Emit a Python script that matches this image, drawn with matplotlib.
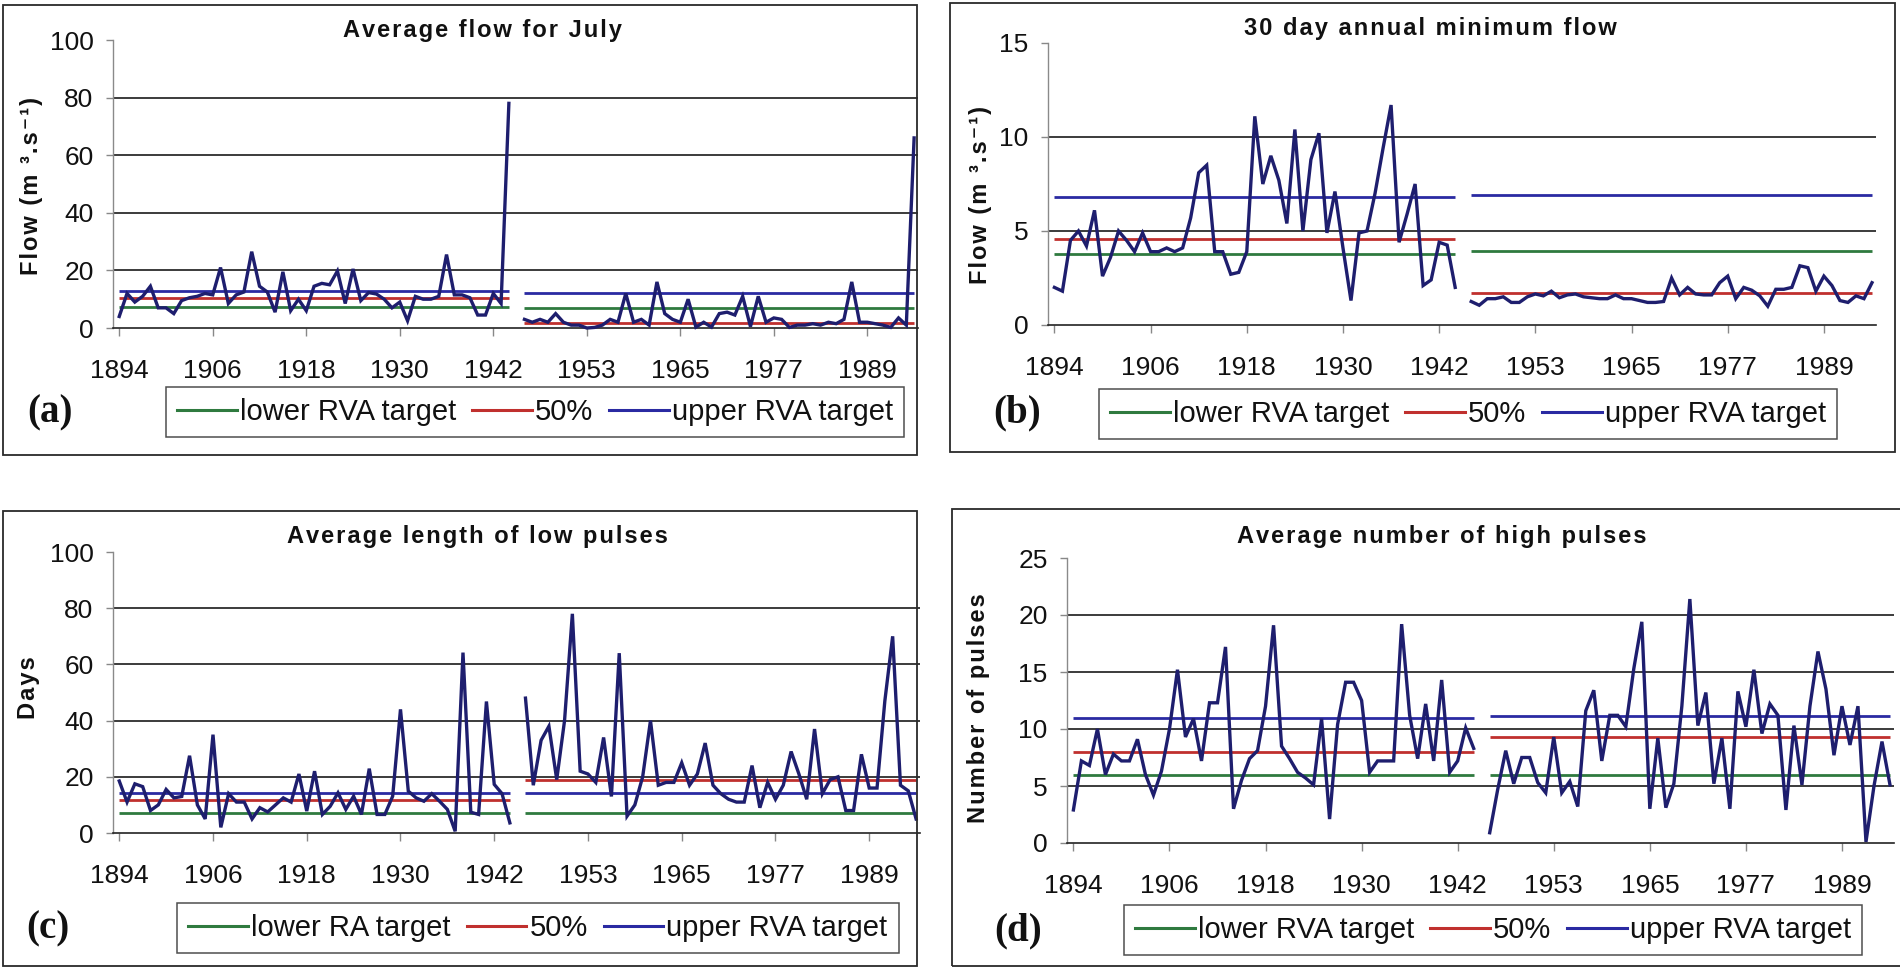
import matplotlib
matplotlib.use("Agg")
import matplotlib.pyplot as plt
from matplotlib.patches import Rectangle
from matplotlib.lines import Line2D

plt.rcParams['font.family'] = ['Liberation Sans', 'DejaVu Sans']

# ---------------------------------------------------------------- categories
years_pre = list(range(1894, 1945))
years_post = list(range(1945, 1996))
categories = [str(y) for y in years_pre] + [''] + [str(y) for y in years_post]
tick_labels = ['1894', '1906', '1918', '1930', '1942', '1953', '1965', '1977', '1989']

# ---------------------------------------------------------------- (a) July flow
july_pre = [4, 12, 9, 11, 14.5, 7, 7, 5, 9.5, 10.5, 11, 12, 11.5, 21, 8.5, 11.5, 12.5,
            26.5, 14.5, 12.5, 5.5, 19.5, 6, 10, 6, 14.5, 15.5, 15, 19.8, 8.5, 20.5, 9.5,
            12.3, 11.8, 10, 7, 9, 2.5, 11, 10, 10, 11, 25.5, 11.5, 11.5, 10.5, 4.5, 4.5,
            12, 8.5, 78]
july_post = [3, 2, 3, 2, 5, 2, 1, 1, 0, 0.2, 1, 3, 2, 12, 2, 3, 1, 16, 5, 3, 2, 10, 0.3,
             2, 0.3, 5, 5.5, 4.5, 11, 0.5, 11, 2, 3.5, 3, 0.2, 1, 1, 1.5, 1, 2, 1.5, 3,
             16, 2, 2, 1.5, 1, 0.2, 3.5, 1, 66]
july_targets_pre = [7.3, 10.3, 12.7]    # lower, 50%, upper
july_targets_post = [7.0, 1.7, 12.2]

# ---------------------------------------------------------------- (b) 30 day minimum
min30_pre = [2.0, 1.8, 4.5, 5.0, 4.2, 6.1, 2.6, 3.6, 5.0, 4.5, 3.9, 4.9, 3.9, 3.9, 4.1,
             3.9, 4.1, 5.7, 8.1, 8.5, 3.9, 3.9, 2.7, 2.8, 3.9, 11.1, 7.5, 9.0, 7.7, 5.4,
             10.4, 5.0, 8.8, 10.2, 4.9, 7.1, 4.1, 1.3, 4.9, 5.0, 7.0, 9.4, 11.7, 4.4, 5.9,
             7.5, 2.1, 2.4, 4.4, 4.25, 2.0]
min30_post = [1.25, 1.05, 1.4, 1.4, 1.5, 1.2, 1.2, 1.5, 1.65, 1.55, 1.8, 1.45, 1.6, 1.65,
              1.5, 1.45, 1.4, 1.4, 1.6, 1.4, 1.4, 1.3, 1.2, 1.2, 1.25, 2.5, 1.6, 2.0, 1.65,
              1.6, 1.6, 2.25, 2.6, 1.4, 2.0, 1.85, 1.55, 1.0, 1.9, 1.9, 2.0, 3.15, 3.05,
              1.8, 2.6, 2.1, 1.3, 1.2, 1.55, 1.4, 2.25]
min30_targets_pre = [3.8, 4.6, 6.8]
min30_targets_post = [3.95, 1.7, 6.9]

# ---------------------------------------------------------------- (c) low pulse length
lowlen_pre = [18.5, 11, 17.5, 16.5, 8, 10, 15.5, 12.5, 13, 27.5, 10, 5, 35, 2, 14, 11, 11,
              5, 9, 7.5, 10, 12.5, 11, 21, 7.8, 22, 6.6, 9.5, 14.3, 8.4, 13.1, 6.6, 22.9,
              6.6, 6.6, 13.1, 44, 14.9, 12.5, 11.3, 14, 11.3, 8.4, 0.6, 64.2, 7.4, 6.6,
              46.8, 17.3, 14, 3.6]
lowlen_post = [48, 17, 33, 38, 19, 40, 78, 22, 21, 18, 34, 13, 64, 6, 10, 20, 40, 17, 18,
               18, 25, 17, 21, 32, 17, 14, 12, 11, 11, 24, 9, 18, 12, 17, 29, 21, 12, 37,
               14, 19, 20, 8, 8, 28, 16, 16, 47, 70, 17, 15, 5]
lowlen_targets_pre = [7.1, 11.9, 14.4]
lowlen_targets_post = [7.0, 18.7, 14.2]

# ---------------------------------------------------------------- (d) high pulse count
highnum_pre = [2.9, 7.2, 6.8, 10, 6, 7.8, 7.2, 7.2, 9.1, 6, 4.2, 6.3, 10, 15.2, 9.3, 10.9,
               7.2, 12.3, 12.3, 17.2, 3.0, 5.5, 7.4, 8.1, 12, 19.1, 8.5, 7.4, 6.2, 5.7,
               5.1, 10.9, 2.1, 10.4, 14.1, 14.1, 12.5, 6.2, 7.2, 7.2, 7.2, 19.2, 11.2, 7.4,
               12.2, 7.2, 14.3, 6.2, 7.2, 10.1, 8.3]
highnum_post = [0.9, 4.7, 8.1, 5.2, 7.5, 7.5, 5.3, 4.4, 9.3, 4.4, 5.4, 3.2, 11.6, 13.4,
                7.2, 11.2, 11.2, 10.2, 15.3, 19.4, 3.0, 9.2, 3.1, 5.2, 12.0, 21.4, 10.3,
                13.2, 5.2, 9.2, 3.0, 13.3, 10.2, 15.2, 9.6, 12.2, 11.2, 2.9, 10.3, 5.1, 12,
                16.8, 13.5, 7.7, 12, 8.6, 12, 0.1, 5, 8.9, 5.1]
highnum_targets_pre = [6.0, 8.0, 11.0]
highnum_targets_post = [6.0, 9.3, 11.1]

legend_rva = ['lower RVA target', '50%', 'upper RVA target']
legend_ra = ['lower RA target', '50%', 'upper RVA target']

# ---------------------------------------------------------------- styling
W, H = 1900, 971
C_DATA = '#1e1e6e'
C_LOW = '#2f7a3f'
C_MED = '#c0302e'
C_UP = '#2a2aa2'
TARGET_COLORS = [C_LOW, C_MED, C_UP]
NARROW = ['Liberation Sans Narrow', 'Liberation Sans', 'DejaVu Sans']
HAIR = '\u200a'


def spaced(s):
    """Open up the tracking of a bold heading with hair spaces."""
    return HAIR.join(s)


x_pre = [categories.index(str(y)) for y in years_pre]
x_post = [categories.index(str(y)) for y in years_post]
tick_pos = [categories.index(t) for t in tick_labels]

panels = [
    dict(tag='(a)', title='Average flow for July', ylabel='Flow (m ³.s⁻¹)',
         pre=july_pre, post=july_post, tpre=july_targets_pre, tpost=july_targets_post,
         yticks=[0, 20, 40, 60, 80, 100], legend=legend_rva,
         box=(3, 5, 917, 455), ax=(113, 40, 918, 328), title_xy=(482, 30),
         ylab_xy=(32, 186), leg_xy=(535, 412), tag_xy=(50, 413)),
    dict(tag='(b)', title='30 day annual minimum flow', ylabel='Flow (m ³.s⁻¹)',
         pre=min30_pre, post=min30_post, tpre=min30_targets_pre, tpost=min30_targets_post,
         yticks=[0, 5, 10, 15], legend=legend_rva,
         box=(950, 3, 1895, 452), ax=(1048, 43, 1876, 325), title_xy=(1430, 29),
         ylab_xy=(981, 195), leg_xy=(1468, 414), tag_xy=(1017, 413)),
    dict(tag='(c)', title='Average length of low pulses', ylabel='Days',
         pre=lowlen_pre, post=lowlen_post, tpre=lowlen_targets_pre, tpost=lowlen_targets_post,
         yticks=[0, 20, 40, 60, 80, 100], legend=legend_ra,
         box=(3, 511, 917, 966), ax=(113, 552, 920, 833), title_xy=(477, 536),
         ylab_xy=(28, 688), leg_xy=(538, 928), tag_xy=(48, 929)),
    dict(tag='(d)', title='Average number of high pulses', ylabel='Number of pulses',
         pre=highnum_pre, post=highnum_post, tpre=highnum_targets_pre,
         tpost=highnum_targets_post,
         yticks=[0, 5, 10, 15, 20, 25], legend=legend_rva,
         box=(952, 509, 1910, 966), ax=(1067, 558, 1894, 843), title_xy=(1442, 537),
         ylab_xy=(979, 708), leg_xy=(1493, 930), tag_xy=(1018, 931)),
]

fig = plt.figure(figsize=(W / 100, H / 100), dpi=100)
fig.patch.set_facecolor('white')


def fx(px):
    return px / W


def fy(py):
    return 1 - py / H


for p in panels:
    x0, y0, x1, y1 = p['box']
    fig.add_artist(Rectangle((fx(x0), fy(y1)), fx(x1 - x0), (y1 - y0) / H,
                             transform=fig.transFigure, fill=False,
                             edgecolor='#2a2a2a', linewidth=1.3))

    l, t, r, b = p['ax']
    ax = fig.add_axes([fx(l), fy(b), fx(r - l), (b - t) / H])
    ax.set_facecolor('none')
    yt = p['yticks']
    ax.set_xlim(-0.8, 102.5)
    ax.set_ylim(0, yt[-1])

    for g in yt[1:-1]:
        ax.axhline(g, color='#1a1a1a', linewidth=1.2, zorder=1)

    for v, c in zip(p['tpre'], TARGET_COLORS):
        ax.plot(x_pre, [v] * len(x_pre), color=c, linewidth=2.0, zorder=2,
                solid_capstyle='butt')
    for v, c in zip(p['tpost'], TARGET_COLORS):
        ax.plot(x_post, [v] * len(x_post), color=c, linewidth=2.0, zorder=2,
                solid_capstyle='butt')

    ax.plot(x_pre, p['pre'], color=C_DATA, linewidth=2.4, zorder=3, clip_on=False,
            solid_joinstyle='miter')
    ax.plot(x_post, p['post'], color=C_DATA, linewidth=2.4, zorder=3, clip_on=False,
            solid_joinstyle='miter')

    for s in ('top', 'right'):
        ax.spines[s].set_visible(False)
    ax.spines['left'].set_color('#8a8a8a')
    ax.spines['left'].set_linewidth(1.0)
    ax.spines['bottom'].set_color('#222222')
    ax.spines['bottom'].set_linewidth(1.2)

    ax.set_yticks(yt)
    ax.set_yticklabels([str(v) for v in yt])
    ax.set_xticks(tick_pos)
    ax.set_xticklabels(tick_labels)
    ax.tick_params(axis='y', direction='out', length=5, width=1, color='#888888',
                   labelsize=19, pad=9)
    ax.tick_params(axis='x', direction='out', length=6, width=1, color='#888888',
                   labelsize=19, pad=16)
    for lab in ax.get_xticklabels() + ax.get_yticklabels():
        lab.set_fontfamily(NARROW)
        lab.set_color('#111111')

    fig.text(fx(p['title_xy'][0]), fy(p['title_xy'][1]), spaced(p['title']),
             ha='center', va='center', fontsize=17, fontweight='bold', color='#111111')
    fig.text(fx(p['ylab_xy'][0]), fy(p['ylab_xy'][1]), spaced(p['ylabel']),
             ha='center', va='center', rotation=90, fontsize=17, fontweight='bold',
             color='#111111')
    fig.text(fx(p['tag_xy'][0]), fy(p['tag_xy'][1]), p['tag'], ha='center', va='center',
             fontsize=28, fontweight='bold', family=['Liberation Serif', 'DejaVu Serif'],
             color='#111111')

    handles = [Line2D([], [], color=c, linewidth=2.2) for c in TARGET_COLORS]
    leg = ax.legend(handles, p['legend'], loc='center',
                    bbox_to_anchor=(fx(p['leg_xy'][0]), fy(p['leg_xy'][1])),
                    bbox_transform=fig.transFigure, ncol=3, frameon=True, fancybox=False,
                    edgecolor='#222222', fontsize=21, handlelength=2.05,
                    handletextpad=0.1, columnspacing=0.55, borderpad=0.38,
                    borderaxespad=0)
    leg.get_frame().set_linewidth(1.1)
    for txt in leg.get_texts():
        txt.set_color('#111111')

fig.savefig('out.png', dpi=100, facecolor='white')
